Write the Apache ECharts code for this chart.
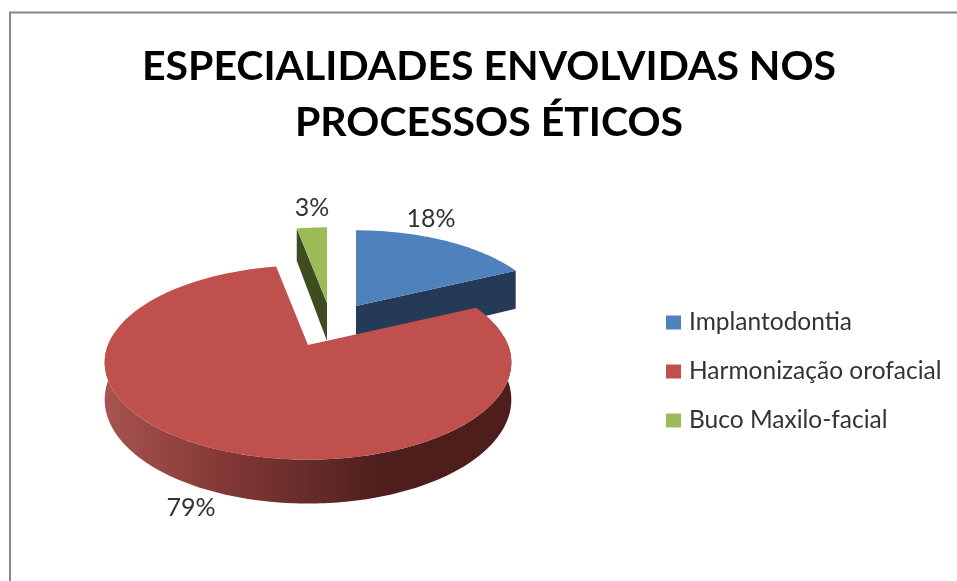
<!DOCTYPE html>
<html>
<head>
<meta charset="utf-8">
<style>
  html, body { margin: 0; padding: 0; background: #fff; }
  #chart { width: 957px; height: 581px; }
</style>
<script src="https://cdn.jsdelivr.net/npm/echarts@6/dist/echarts.min.js"></script>
</head>
<body>
<div id="chart"></div>
<script>
// dados do grafico
var titleText = "ESPECIALIDADES ENVOLVIDAS NOS\nPROCESSOS ÉTICOS";
var categories = ["Implantodontia", "Harmonização orofacial", "Buco Maxilo-facial"];
var percents = [18, 79, 3];

// estilo de cada fatia
var topColors = ["#4f81bd", "#c0504d", "#9bbb59"];
var faceColors = ["#243a57", "#4d1e1c", "#3f4c22"];
var apexes = [[356, 306], [308, 345], [327, 303]];
var sliceScale = [0.95, 1, 0.95];
var sliceDepth = [41, 36, 38];
var labelPos = [[431, 219], [191, 508], [312, 208]];

// pizza em perspectiva
var RX = 200, RY = 94, PERSP = 0.18;
var total = percents.reduce(function (a, b) { return a + b; }, 0);

function project(i, deg, r, drop) {
  var t = deg * Math.PI / 180;
  var u = r * Math.sin(t), v = -r * Math.cos(t);
  var w = 1 - PERSP * v;
  var s = sliceScale[i];
  return [
    apexes[i][0] + s * RX * u / w,
    apexes[i][1] + (s * RY * v + (drop ? sliceDepth[i] : 0)) / w
  ];
}

function arc(i, from, to, drop) {
  var pts = [];
  var n = Math.max(2, Math.ceil(Math.abs(to - from)));
  for (var k = 0; k <= n; k++) {
    pts.push(project(i, from + (to - from) * k / n, 1, drop));
  }
  return pts;
}

function cutFace(i, deg, color) {
  return {
    type: "polygon",
    shape: { points: [project(i, deg, 0, false), project(i, deg, 1, false), project(i, deg, 1, true), project(i, deg, 0, true)] },
    style: { fill: color }
  };
}

function renderSlice(i, params, api) {
  var value = api.value(0);
  var before = percents.slice(0, i).reduce(function (a, b) { return a + b; }, 0);
  var start = before / total * 360;
  var end = start + value / total * 360;
  var children = [];

  // faces do corte
  if (Math.sin(start * Math.PI / 180) < -1e-6) children.push(cutFace(i, start, faceColors[i]));
  if (Math.sin(end * Math.PI / 180) > 1e-6) children.push(cutFace(i, end, faceColors[i]));

  // lateral curva
  var a = Math.max(start, 85), b = Math.min(end, 275);
  if (b > a) {
    children.push({
      type: "polygon",
      shape: { points: arc(i, a, b, false).concat(arc(i, b, a, true)) },
      style: {
        fill: new echarts.graphic.LinearGradient(0, 0, 1, 0, [
          { offset: 0, color: "#a85350" },
          { offset: 0.32, color: "#7f3634" },
          { offset: 0.56, color: "#5f2826" },
          { offset: 0.68, color: "#4d1e1c" },
          { offset: 1, color: "#4d1e1c" }
        ])
      }
    });
  }

  // topo
  children.push({
    type: "polygon",
    shape: { points: [project(i, start, 0, false)].concat(arc(i, start, end, false)) },
    style: { fill: topColors[i] }
  });

  children.push({
    type: "text",
    style: {
      x: labelPos[i][0], y: labelPos[i][1], text: value + "%",
      fill: "#333", font: "25px Lato", textAlign: "center", textVerticalAlign: "middle"
    }
  });
  return { type: "group", children: children };
}

var chart = echarts.init(document.getElementById("chart"));

var series = categories.map(function (name, i) {
  return {
    type: "custom",
    name: name,
    coordinateSystem: "none",
    z: i === 1 ? 3 : 2,
    itemStyle: { color: topColors[i] },
    data: [percents[i]],
    renderItem: function (params, api) { return renderSlice(i, params, api); },
    silent: true,
    animation: false
  };
});

chart.setOption({
  backgroundColor: "#fff",
  animation: false,
  title: {
    text: titleText,
    left: 484,
    top: 34,
    textAlign: "center",
    textStyle: { fontFamily: "Lato", fontWeight: "bold", fontSize: 41, lineHeight: 56, color: "#000" }
  },
  legend: {
    data: categories,
    orient: "vertical",
    left: 666,
    top: 310,
    padding: 0,
    icon: "rect",
    itemWidth: 15,
    itemHeight: 14,
    itemGap: 24,
    textStyle: { fontFamily: "Lato", fontSize: 24.5, lineHeight: 14, color: "#333", padding: [0, 0, 0, 3] }
  },
  graphic: [{
    type: "polyline",
    shape: { points: [[10, 581], [10, 12.5], [957, 12.5]] },
    style: { stroke: "#868686", lineWidth: 2, fill: null },
    silent: true
  }],
  series: series
});
</script>
</body>
</html>
